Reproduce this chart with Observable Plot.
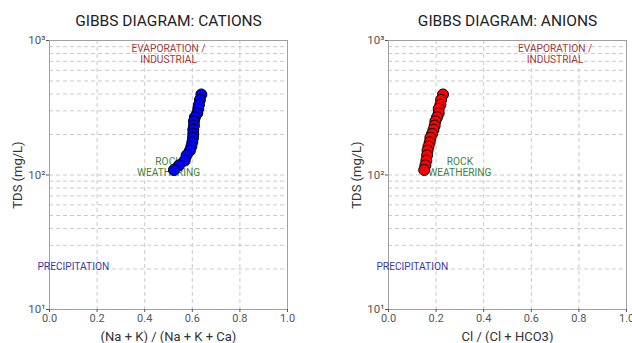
<!DOCTYPE html>
<html><head><meta charset="utf-8">
<script src="https://cdn.jsdelivr.net/npm/d3@7"></script>
<script src="https://cdn.jsdelivr.net/npm/@observablehq/plot@0.6"></script>
<style>
body{margin:0;background:#fff;}
#wrap{position:relative;width:632px;height:343px;overflow:hidden;}
.panel{position:absolute;top:0;}
</style></head><body><div id="wrap"></div>
<script>
// Data
const tds = [397,362,333,311,288,269,251,233,217,202,189,175,163,152,140,128,118,109];
const cationRatio = [0.638,0.632,0.628,0.625,0.621,0.611,0.607,0.607,0.604,0.604,0.603,0.600,0.596,0.590,0.576,0.568,0.544,0.523];
const anionRatio  = [0.229,0.221,0.218,0.211,0.211,0.204,0.197,0.194,0.189,0.183,0.176,0.173,0.168,0.164,0.162,0.159,0.155,0.150];

const xTicks = [0, 0.2, 0.4, 0.6, 0.8, 1.0];
const yMajor = [10, 100, 1000];
const yMajorLabels = ["10¹", "10²", "10³"];
const yMinor = [20,30,40,50,60,70,80,90,200,300,400,500,600,700,800,900];

const zoneLabels = ["EVAPORATION /\nINDUSTRIAL", "ROCK\nWEATHERING", "PRECIPITATION"];
const zoneTDS = [800, 115, 21];
const cationZoneX = [0.5, 0.5, 0.1];
const anionZoneX = [0.7, 0.3, 0.1];
const zoneColors = ["#8b0000", "#006400", "#00008b"];

const FONT = "Roboto, sans-serif";

function panel({title, xLabel, ratio, zoneX, color, left, marginLeft, marginRight}) {
  const pts = ratio.map((r, i) => ({x: r, y: tds[i]}));
  const zones = zoneLabels.map((t, i) => ({t, x: zoneX[i], y: zoneTDS[i], c: zoneColors[i]}));
  const dash = {stroke: "#c4c4c4", strokeOpacity: 1, strokeDasharray: "4,3", strokeWidth: 0.9};
  const p = Plot.plot({
    width: 316, height: 343,
    marginLeft, marginRight, marginTop: 40, marginBottom: 34,
    style: {fontFamily: FONT, background: "transparent"},
    x: {domain: [0, 1]},
    y: {type: "log", domain: [10, 1000]},
    marks: [
      Plot.gridX(xTicks.slice(1, -1), dash),
      Plot.gridY(yMinor.concat([100]), dash),
      Plot.frame({stroke: "#a0a0a0"}),
      Plot.axisX({ticks: xTicks, tickFormat: d3.format(".1f"), tickSize: 3, tickPadding: 2, fontSize: 11, color: "#555", label: null}),
      Plot.axisY({ticks: yMajor, tickFormat: d => yMajorLabels[yMajor.indexOf(d)], tickSize: 3, tickPadding: 1, fontSize: 11.5, color: "#555", label: null}),
      Plot.text(zones, {x: "x", y: "y", text: "t", fill: "c", fillOpacity: 0.8, fontSize: 10.2, lineHeight: 1.1, textAnchor: "middle", lineAnchor: "middle"}),
      Plot.dot(pts, {x: "x", y: "y", r: 5.5, fill: color, stroke: "#000", strokeWidth: 1}),
      Plot.text([title], {frameAnchor: "top", dy: -19, fontSize: 15.5, fill: "#222", lineAnchor: "middle"}),
      Plot.text([xLabel], {frameAnchor: "bottom", dy: 27, fontSize: 13, fill: "#333", lineAnchor: "middle"}),
      Plot.text(["TDS (mg/L)"], {frameAnchor: "left", dx: -32, rotate: -90, fontSize: 13, fill: "#333", lineAnchor: "middle", textAnchor: "middle"})
    ]
  });
  const div = document.createElement("div");
  div.className = "panel";
  div.style.left = left + "px";
  div.appendChild(p);
  document.getElementById("wrap").appendChild(div);
}

panel({title: "GIBBS DIAGRAM: CATIONS", xLabel: "(Na + K) / (Na + K + Ca)", ratio: cationRatio, zoneX: cationZoneX, color: "#0000ff", left: 0, marginLeft: 49, marginRight: 29});
panel({title: "GIBBS DIAGRAM: ANIONS", xLabel: "Cl / (Cl + HCO3)", ratio: anionRatio, zoneX: anionZoneX, color: "#ff0000", left: 316, marginLeft: 72, marginRight: 6});
</script></body></html>
